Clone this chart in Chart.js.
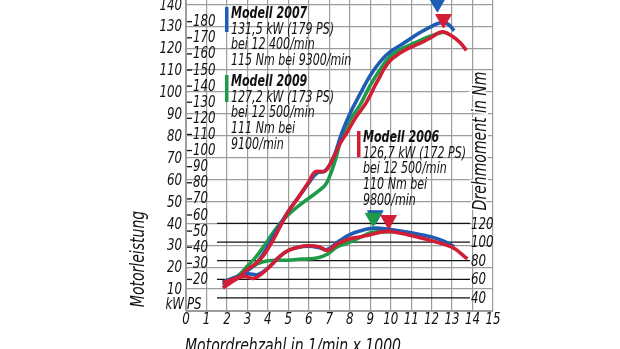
<!DOCTYPE html>
<html>
<head>
<meta charset="utf-8">
<script src="https://cdn.jsdelivr.net/npm/chart.js@4.4.1/dist/chart.umd.min.js"></script>
<style>
  html, body { margin: 0; padding: 0; background: #fff; }
  #wrap { position: relative; width: 620px; height: 349px; }
</style>
</head>
<body>
<div id="wrap"><canvas id="chart" width="620" height="349"></canvas></div>
<script>
// axis ticks
const rpmTicks = [0, 1, 2, 3, 4, 5, 6, 7, 8, 9, 10, 11, 12, 13, 14, 15];
const kwTicks = [0, 10, 20, 30, 40, 50, 60, 70, 80, 90, 100, 110, 120, 130, 140];
const psTicks = [20, 30, 40, 50, 60, 70, 80, 90, 100, 110, 120, 130, 140, 150, 160, 170, 180];
const nmTicks = [40, 60, 80, 100, 120];

// Modell 2007 (blue)
const rpm2007Power = [1.8, 2.2, 2.6, 3.0, 3.4, 3.8, 4.2, 4.6, 5.0, 5.5, 6.0, 6.4, 6.8, 7.2, 7.6, 8.0, 8.5, 9.0, 9.5, 10.0, 10.5, 11.0, 11.5, 12.0, 12.4, 12.8, 13.1];
const kw2007 = [12, 13.5, 15.5, 18.5, 21.5, 26.5, 33, 39.5, 45.5, 52, 58.5, 63, 64, 70, 81, 90, 99, 107.5, 114, 118.5, 121.5, 124.5, 127.5, 130, 131.5, 131, 128];
const rpm2007Torque = [1.8, 2.4, 3.0, 3.5, 4.0, 4.5, 5.0, 5.5, 6.0, 6.5, 6.9, 7.5, 8.0, 8.5, 9.0, 9.3, 10.0, 11.0, 12.0, 12.6, 13.1];
const nm2007 = [57, 62, 66, 65, 72, 83, 91, 94.5, 95.5, 94, 92, 101.5, 108, 112, 114.5, 115, 113.5, 110, 105.5, 101, 95];

// Modell 2009 (green)
const rpm2009Power = [1.8, 2.2, 2.6, 3.0, 3.4, 3.8, 4.2, 4.6, 5.0, 5.5, 6.0, 6.5, 6.8, 7.0, 7.3, 7.6, 8.0, 8.5, 9.0, 9.5, 10.0, 10.6, 11.2, 11.8, 12.5, 12.7];
const kw2009 = [12, 13.5, 16.5, 20.5, 24.5, 29.5, 35, 40, 44, 48, 51.5, 55, 57.5, 61, 69, 79, 87, 94, 103, 110.5, 116.5, 120, 122.5, 125, 127.2, 127];
const rpm2009Torque = [1.8, 2.4, 3.0, 3.5, 4.0, 4.5, 5.0, 5.5, 6.0, 6.5, 6.9, 7.4, 8.0, 8.5, 9.1, 9.6, 10.1];
const nm2009 = [57, 62, 70, 77, 80, 80.5, 80.5, 81.5, 82, 83.5, 87, 95, 100, 105, 110.5, 111, 111.5];

// Modell 2006 (red)
const rpm2006Power = [1.8, 2.2, 2.6, 3.0, 3.4, 3.8, 4.2, 4.6, 5.0, 5.5, 6.0, 6.3, 6.8, 7.2, 7.5, 7.9, 8.3, 8.8, 9.3, 9.9, 10.5, 11.0, 11.5, 12.0, 12.5, 13.0, 13.4, 13.7];
const kw2006 = [10.5, 13, 15.5, 19, 21.5, 25.5, 31.5, 38.5, 45.5, 52, 59, 63.5, 64, 70, 76, 82, 88.5, 95, 104, 113.5, 118, 120.5, 122.5, 125, 127.5, 125.5, 122.5, 119];
const rpm2006Torque = [1.8, 2.4, 2.9, 3.3, 3.7, 4.2, 4.6, 5.0, 5.5, 5.9, 6.5, 6.9, 7.4, 8.0, 8.5, 9.0, 9.8, 10.5, 11.1, 12.0, 13.0, 13.75];
const nm2006 = [56, 61, 63, 61, 66, 76, 85, 91, 94.5, 96, 95, 91, 98, 103.5, 105.5, 108, 111.5, 109.5, 106.5, 101.5, 94.5, 82];

// peak markers (triangles above the curves)
const powerMarkRpm = [12.28, 12.58];      // 2007, 2006
const powerMarkKw = [140.6, 133.3];
const torqueMarkRpm = [9.25, 9.14, 9.9];  // 2007, 2009, 2006
const torqueMarkNm = [128.8, 126.2, 123.7];

// legend texts
const note2007 = ['Modell 2007', '131,5 kW (179 PS)', 'bei 12 400/min', '115 Nm bei 9300/min'];
const note2009 = ['Modell 2009', '127,2 kW (173 PS)', 'bei 12 500/min', '111 Nm bei', '9100/min'];
const note2006 = ['Modell 2006', '126,7 kW (172 PS)', 'bei 12 500/min', '110 Nm bei', '9800/min'];

const BLUE = '#1f5cb3';
const GREEN = '#1f9a48';
const RED = '#d21e34';
const INK = '#111';
const FAMILY = "'DejaVu Sans Condensed', 'DejaVu Sans', sans-serif";
const SX = 0.82; // squeeze text horizontally, the original uses a condensed face
const font = (size, bold) => 'italic ' + (bold ? 'bold ' : '') + size + 'px ' + FAMILY;
const pts = (xs, ys) => xs.map((x, i) => ({ x: x, y: ys[i] }));

function curve(label, xs, ys, color, axis, order) {
    return {
        label: label,
        data: pts(xs, ys),
        borderColor: color,
        borderWidth: 3.6,
        pointRadius: 0,
        tension: 0.4,
        fill: false,
        yAxisID: axis,
        order: order
    };
}

function marker(label, x, y, color, axis, order) {
    return {
        type: 'scatter',
        label: label,
        data: [{ x: x, y: y }],
        pointStyle: 'triangle',
        rotation: 180,
        pointRadius: 9,
        backgroundColor: color,
        borderColor: color,
        borderWidth: 1,
        yAxisID: axis,
        clip: false,
        order: order
    };
}

// squeezed text, optionally rotated
function txt(ctx, text, x, y, align, base, rot) {
    ctx.save();
    ctx.translate(x, y);
    if (rot) ctx.rotate(rot);
    ctx.scale(SX, 1);
    ctx.textAlign = align || 'left';
    ctx.textBaseline = base || 'alphabetic';
    ctx.fillText(text, 0, 0);
    ctx.restore();
}

function drawNote(ctx, lines, color, x, top, barH) {
    ctx.fillStyle = color;
    ctx.fillRect(x, top, 3.5, barH);
    ctx.fillStyle = INK;
    lines.forEach((t, i) => {
        ctx.font = font(15, i === 0);
        txt(ctx, t, x + 6, top + 11 + i * 15.7);
    });
}

function noPad(s) {
    s.paddingTop = 0; s.paddingBottom = 0; s.paddingLeft = 0; s.paddingRight = 0;
}

const decor = {
    id: 'decor',
    beforeDatasetsDraw(chart) {
        const { ctx, scales } = chart;
        const x = scales.x, y = scales.y, y2 = scales.y2;
        ctx.save();

        // torque reference lines
        ctx.strokeStyle = '#111';
        ctx.lineWidth = 1.3;
        nmTicks.forEach(v => {
            const py = y2.getPixelForValue(v);
            ctx.beginPath();
            ctx.moveTo(217, py);
            ctx.lineTo(470, py);
            ctx.stroke();
        });

        ctx.fillStyle = INK;
        ctx.font = font(16);
        // tick labels
        rpmTicks.forEach(v => txt(ctx, String(v), x.getPixelForValue(v), 320, 'center', 'middle'));
        kwTicks.forEach(v => { if (v) txt(ctx, String(v), 182, y.getPixelForValue(v) + 1, 'right', 'middle'); });
        nmTicks.forEach(v => txt(ctx, String(v), 471, y2.getPixelForValue(v) + 1, 'left', 'middle'));
        psTicks.forEach(v => {
            const py = y.getPixelForValue(v * 0.7355);
            ctx.fillRect(187, py, 5, 1.3);
            txt(ctx, String(v), 193, py + 1, 'left', 'middle');
        });

        // unit labels
        txt(ctx, 'kW', 184, 305, 'right', 'middle');
        txt(ctx, 'PS', 187, 305, 'left', 'middle');

        // notes
        drawNote(ctx, note2007, BLUE, 225, 7, 25);
        drawNote(ctx, note2009, GREEN, 225, 75, 27);
        drawNote(ctx, note2006, RED, 357, 131, 26);

        // axis titles
        ctx.fillStyle = INK;
        ctx.font = font(19);
        txt(ctx, 'Motorleistung', 139, 259, 'center', 'middle', -Math.PI / 2);
        ctx.save();
        ctx.translate(481, 141);
        ctx.rotate(-Math.PI / 2);
        ctx.scale(SX, 1);
        ctx.textAlign = 'center';
        ctx.textBaseline = 'middle';
        ctx.strokeStyle = '#fff';
        ctx.lineWidth = 4;
        ctx.strokeText('Drehmoment in Nm', 0, 0);
        ctx.fillText('Drehmoment in Nm', 0, 0);
        ctx.restore();
        txt(ctx, 'Motordrehzahl in 1/min x 1000', 185, 352);

        ctx.restore();
    }
};

const gridColor = '#9c9c9c';

new Chart(document.getElementById('chart'), {
    type: 'line',
    data: {
        datasets: [
            marker('2007 kW max', powerMarkRpm[0], powerMarkKw[0], BLUE, 'y', 0),
            marker('2006 kW max', powerMarkRpm[1], powerMarkKw[1], RED, 'y', 0),
            marker('2009 Nm max', torqueMarkRpm[1], torqueMarkNm[1], GREEN, 'y2', 1),
            marker('2006 Nm max', torqueMarkRpm[2], torqueMarkNm[2], RED, 'y2', 1),
            marker('2007 Nm max', torqueMarkRpm[0], torqueMarkNm[0], BLUE, 'y2', 2),
            curve('2006 kW', rpm2006Power, kw2006, RED, 'y', 3),
            curve('2006 Nm', rpm2006Torque, nm2006, RED, 'y2', 3),
            curve('2007 kW', rpm2007Power, kw2007, BLUE, 'y', 4),
            curve('2007 Nm', rpm2007Torque, nm2007, BLUE, 'y2', 4),
            curve('2009 kW', rpm2009Power, kw2009, GREEN, 'y', 5),
            curve('2009 Nm', rpm2009Torque, nm2009, GREEN, 'y2', 5)
        ]
    },
    options: {
        responsive: false,
        animation: false,
        layout: { padding: { left: 0, right: 127, top: 0, bottom: 0 }, autoPadding: false },
        plugins: { legend: { display: false }, tooltip: { enabled: false } },
        scales: {
            x: {
                type: 'linear',
                min: 0,
                max: 15,
                afterBuildTicks: s => { s.ticks = rpmTicks.map(v => ({ value: v })); },
                afterFit: s => { s.height = 38; noPad(s); },
                grid: { color: gridColor, lineWidth: 1.2, drawTicks: false },
                border: { color: gridColor },
                ticks: { display: false }
            },
            y: {
                type: 'linear',
                position: 'left',
                min: 0,
                max: 142,
                afterBuildTicks: s => { s.ticks = kwTicks.map(v => ({ value: v })); },
                afterFit: s => { s.width = 186; noPad(s); },
                grid: { color: gridColor, lineWidth: 1.2, drawTicks: false },
                border: { color: gridColor },
                ticks: { display: false }
            },
            y2: {
                type: 'linear',
                position: 'right',
                min: 26,
                max: 360,
                display: false
            }
        }
    },
    plugins: [decor]
});
</script>
</body>
</html>
